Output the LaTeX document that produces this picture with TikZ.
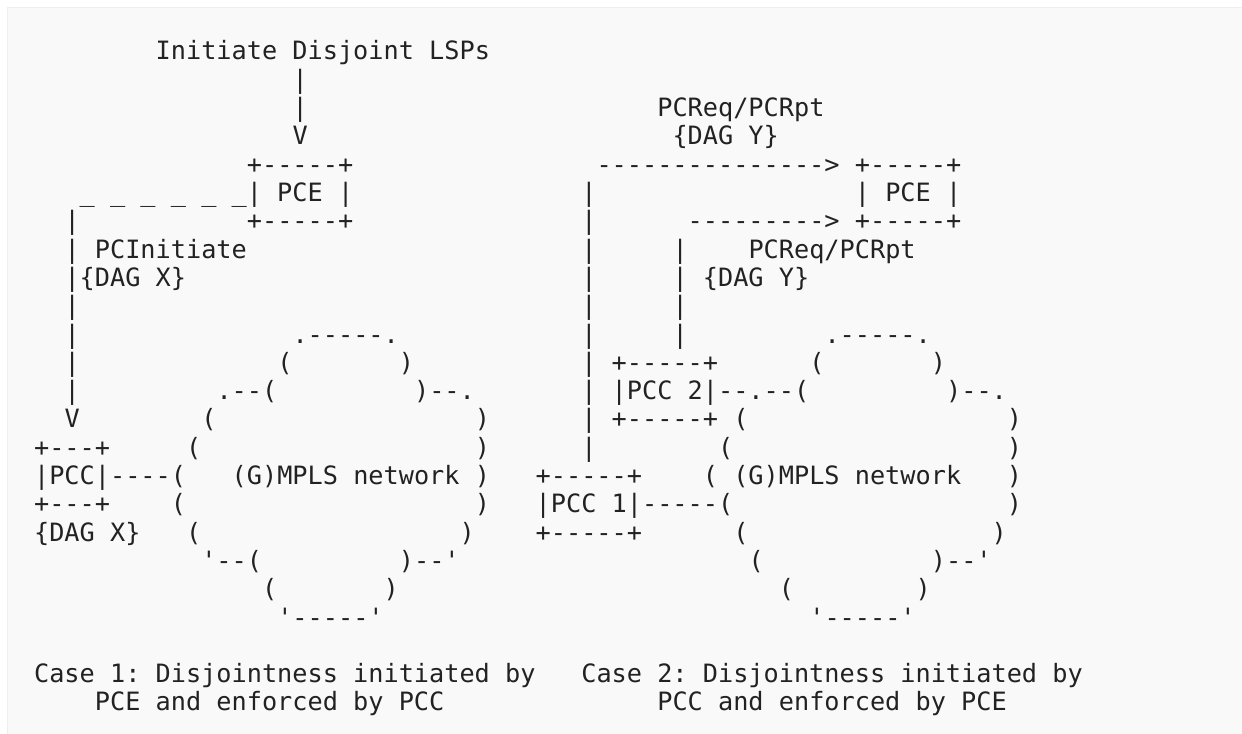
\documentclass[tikz,border=0pt]{standalone}
\usepackage{fontspec}
\setmonofont{DejaVu Sans Mono}
\definecolor{prebg}{HTML}{F9F9F9}
\definecolor{preborder}{HTML}{EEEEEE}
\definecolor{asciitext}{HTML}{222222}
\tikzset{every picture/.style={line width=0.75pt}}
\tikzset{ascii/.style={font=\ttfamily\fontsize{18.93}{22}\selectfont, text=asciitext, anchor=base west, inner sep=0pt, outer sep=0pt}}

\begin{document}
\begin{tikzpicture}[x=0.75pt,y=0.75pt,yscale=-1,xscale=1]
\useasboundingbox (0,0) rectangle (1242,734);

%Shape: Rectangle [page]
\fill [white] (0,0) rectangle (1242,734);
%Shape: Rectangle [figure box]
\draw [draw=preborder, fill=prebg] (7.5,7.5) -- (1250,7.5) -- (1250,740) -- (7.5,740) -- cycle ;

% Case 1: PCE side
\node [ascii] (initiate) at (155.7,60) {Initiate Disjoint LSPs};
\node [ascii] (initbara) at (292.5,88.3) {|};
\node [ascii] (initbarb) at (292.5,116.6) {|};
\node [ascii] (initarrow) at (292.5,144.9) {V};
\node [ascii] (pceatop) at (246.9,173.2) {+-----+};
\node [ascii] (pcea) at (79.7,201.5) {\_ \_ \_ \_ \_ \_| PCE |};
\node [ascii] (pceabot) at (246.9,229.8) {+-----+};

% Case 1: PCInitiate line
\node [ascii] (xbara) at (64.5,229.8) {|};
\node [ascii] (pcinit) at (64.5,258.1) {| PCInitiate};
\node [ascii] (dagxa) at (64.5,286.4) {|\{DAG X\}};
\node [ascii] (xbarb) at (64.5,314.7) {|};
\node [ascii] (xbarc) at (64.5,343.0) {|};
\node [ascii] (xbard) at (64.5,371.3) {|};
\node [ascii] (xbare) at (64.5,399.6) {|};
\node [ascii] (xarrow) at (64.5,427.9) {V};

% Case 1: PCC
\node [ascii] (pcctop) at (34.1,456.2) {+---+};
\node [ascii] (pcc) at (34.1,484.5) {|PCC|----(};
\node [ascii] (pccbot) at (34.1,512.8) {+---+};
\node [ascii] (dagxb) at (34.1,541.1) {\{DAG X\}};

% Case 1: cloud
\node [ascii] (clouda1) at (292.5,343.0) {.-----.};
\node [ascii] (clouda2l) at (277.3,371.3) {(};
\node [ascii] (clouda2r) at (398.9,371.3) {)};
\node [ascii] (clouda3l) at (216.5,399.6) {.--(};
\node [ascii] (clouda3r) at (414.1,399.6) {)--.};
\node [ascii] (clouda4l) at (201.3,427.9) {(};
\node [ascii] (clouda4r) at (474.9,427.9) {)};
\node [ascii] (clouda5l) at (186.1,456.2) {(};
\node [ascii] (clouda5r) at (474.9,456.2) {)};
\node [ascii] (mplsa) at (231.7,484.5) {(G)MPLS network};
\node [ascii] (clouda6r) at (474.9,484.5) {)};
\node [ascii] (clouda7l) at (170.9,512.8) {(};
\node [ascii] (clouda7r) at (474.9,512.8) {)};
\node [ascii] (clouda8l) at (186.1,541.1) {(};
\node [ascii] (clouda8r) at (459.7,541.1) {)};
\node [ascii] (clouda9l) at (201.3,569.4) {'--(};
\node [ascii] (clouda9r) at (398.9,569.4) {)--'};
\node [ascii] (clouda10l) at (262.1,597.7) {(};
\node [ascii] (clouda10r) at (383.7,597.7) {)};
\node [ascii] (clouda11) at (277.3,626.0) {'-----'};

% Case 2: PCE side
\node [ascii] (reqa) at (657.3,116.6) {PCReq/PCRpt};
\node [ascii] (dagya) at (672.5,144.9) {\{DAG Y\}};
\node [ascii] (reqarrowa) at (596.5,173.2) {--------------->};
\node [ascii] (pcebtop) at (854.9,173.2) {+-----+};
\node [ascii] (pceb) at (854.9,201.5) {| PCE |};
\node [ascii] (pcebbot) at (854.9,229.8) {+-----+};
\node [ascii] (reqarrowb) at (687.7,229.8) {--------->};
\node [ascii] (reqb) at (748.5,258.1) {PCReq/PCRpt};
\node [ascii] (dagyb) at (672.5,286.4) {| \{DAG Y\}};

% Case 2: vertical lines
\node [ascii] (ybara) at (581.3,201.5) {|};
\node [ascii] (ybarb) at (581.3,229.8) {|};
\node [ascii] (ybarc) at (581.3,258.1) {|};
\node [ascii] (ybard) at (581.3,286.4) {|};
\node [ascii] (ybare) at (581.3,314.7) {|};
\node [ascii] (ybarf) at (581.3,343.0) {|};
\node [ascii] (ybarg) at (581.3,456.2) {|};
\node [ascii] (zbara) at (672.5,258.1) {|};
\node [ascii] (zbarb) at (672.5,314.7) {|};
\node [ascii] (zbarc) at (672.5,343.0) {|};

% Case 2: PCC 2 and PCC 1
\node [ascii] (pccbtop) at (581.3,371.3) {| +-----+};
\node [ascii] (pccb) at (581.3,399.6) {| |PCC 2|--.--(};
\node [ascii] (pccbbot) at (581.3,427.9) {| +-----+ (};
\node [ascii] (pccctop) at (535.7,484.5) {+-----+};
\node [ascii] (pccc) at (535.7,512.8) {|PCC 1|-----(};
\node [ascii] (pcccbot) at (535.7,541.1) {+-----+};

% Case 2: cloud
\node [ascii] (cloudb1) at (824.5,343.0) {.-----.};
\node [ascii] (cloudb2l) at (809.3,371.3) {(};
\node [ascii] (cloudb2r) at (930.9,371.3) {)};
\node [ascii] (cloudb3r) at (946.1,399.6) {)--.};
\node [ascii] (cloudb4r) at (1006.9,427.9) {)};
\node [ascii] (cloudb5l) at (718.1,456.2) {(};
\node [ascii] (cloudb5r) at (1006.9,456.2) {)};
\node [ascii] (mplsb) at (702.9,484.5) {( (G)MPLS network};
\node [ascii] (cloudb6r) at (1006.9,484.5) {)};
\node [ascii] (cloudb7r) at (1006.9,512.8) {)};
\node [ascii] (cloudb8l) at (733.3,541.1) {(};
\node [ascii] (cloudb8r) at (991.7,541.1) {)};
\node [ascii] (cloudb9l) at (748.5,569.4) {(};
\node [ascii] (cloudb9r) at (930.9,569.4) {)--'};
\node [ascii] (cloudb10l) at (778.9,597.7) {(};
\node [ascii] (cloudb10r) at (915.7,597.7) {)};
\node [ascii] (cloudb11) at (809.3,626.0) {'-----'};

% Captions
\node [ascii] (casea) at (34.1,682.6) {Case 1: Disjointness initiated by};
\node [ascii] (caseaa) at (94.9,710.9) {PCE and enforced by PCC};
\node [ascii] (caseb) at (581.3,682.6) {Case 2: Disjointness initiated by};
\node [ascii] (casebb) at (657.3,710.9) {PCC and enforced by PCE};

\end{tikzpicture}
\end{document}
